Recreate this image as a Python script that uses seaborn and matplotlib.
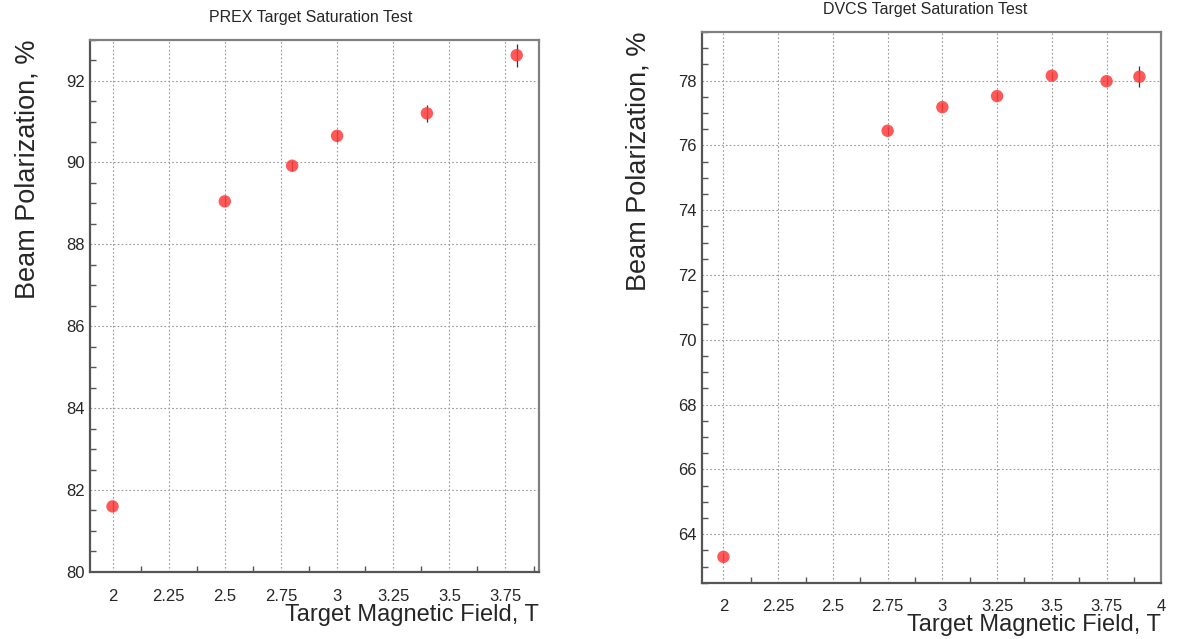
# Target saturation tests: beam polarization vs target magnetic field
import numpy as np
import pandas as pd
import matplotlib
matplotlib.use("Agg")
import matplotlib.pyplot as plt
from matplotlib.ticker import MultipleLocator
import seaborn as sns

# PREX run
prex_field = [2.0, 2.5, 2.8, 3.0, 3.4, 3.8]
prex_pol = [81.6, 89.05, 89.92, 90.65, 91.2, 92.62]
prex_err = [0.12, 0.12, 0.12, 0.15, 0.2, 0.28]

# DVCS run
dvcs_field = [2.0, 2.75, 3.0, 3.25, 3.5, 3.75, 3.9]
dvcs_pol = [63.3, 76.45, 77.18, 77.52, 78.15, 77.98, 78.12]
dvcs_err = [0.12, 0.12, 0.12, 0.12, 0.12, 0.12, 0.33]

sns.set_style("white")
plt.rcParams['font.family'] = ['Liberation Sans', 'DejaVu Sans']

fig = plt.figure(figsize=(11.85, 6.39), dpi=100)
ax1 = fig.add_axes([0.076, 0.105, 0.379, 0.833])
ax2 = fig.add_axes([0.592, 0.088, 0.388, 0.862])

panels = [
    (ax1, prex_field, prex_pol, prex_err, "PREX Target Saturation Test",
     (1.9, 3.9), (80, 93), np.arange(2, 3.9, 0.25), (0.262, 0.972)),
    (ax2, dvcs_field, dvcs_pol, dvcs_err, "DVCS Target Saturation Test",
     (1.9, 4.0), (62.5, 79.5), np.arange(2, 4.01, 0.25), (0.781, 0.985)),
]

for ax, x, y, err, title, xlim, ylim, xt, tpos in panels:
    df = pd.DataFrame({'field': x, 'pol': y})
    ax.errorbar(x, y, yerr=err, fmt='none', ecolor='#333333', elinewidth=0.9, zorder=2)
    sns.scatterplot(data=df, x='field', y='pol', ax=ax, color='#ff3b3b', s=80,
                    alpha=0.85, edgecolor='none', zorder=3)
    ax.set_xlim(*xlim)
    ax.set_ylim(*ylim)
    ax.set_xticks(xt)
    ax.set_xticklabels([f"{v:g}" for v in xt])
    ax.yaxis.set_major_locator(MultipleLocator(2))
    ax.yaxis.set_minor_locator(MultipleLocator(0.5))
    ax.xaxis.set_minor_locator(MultipleLocator(0.125))
    ax.grid(True, which='major', color='#9a9a9a', linestyle=(0, (1.5, 2)), linewidth=0.8)
    ax.tick_params(axis='both', which='major', direction='in', length=8, width=1.2,
                   color='#555555', labelsize=12)
    ax.tick_params(axis='x', which='major', pad=12)
    ax.tick_params(axis='both', which='minor', direction='in', length=4, width=1.0,
                   color='#555555', bottom=True, left=True)
    for sp in ax.spines.values():
        sp.set_color('#808080')
        sp.set_linewidth(1.6)
    ax.spines['left'].set_color('#555555')
    ax.spines['bottom'].set_color('#555555')
    fig.text(tpos[0], tpos[1], title, fontsize=11.5, ha='center', va='center')
    ax.set_xlabel("Target Magnetic Field, T", fontsize=17, loc='right', labelpad=0)
    ax.set_ylabel("Beam Polarization, %", fontsize=19.5, loc='top', labelpad=19)

fig.savefig("out.png", dpi=100)
